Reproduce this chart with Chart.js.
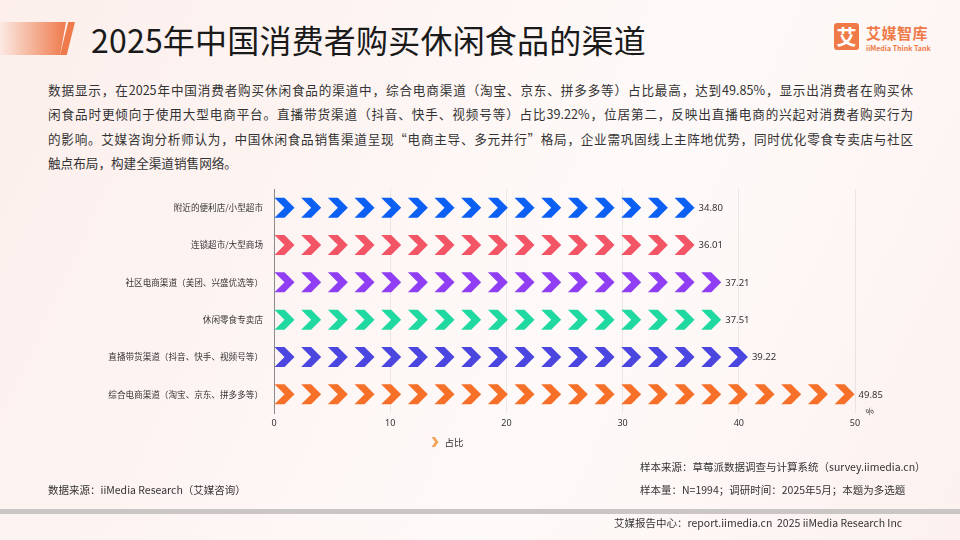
<!DOCTYPE html>
<html><head><meta charset="utf-8">
<script src="https://cdn.jsdelivr.net/npm/chart.js@4.4.1/dist/chart.umd.min.js"></script>
<style>
html,body{margin:0;padding:0;}
body{width:960px;height:540px;position:relative;overflow:hidden;
 background:linear-gradient(115deg,#fcefec 0%,#fdf5f3 35%,#fefaf9 60%,#fdf6f4 80%,#fcf1ef 100%);
 font-family:"Noto Sans CJK SC","Noto Sans",sans-serif;color:#333;}
.abs{position:absolute;white-space:nowrap;}
#blk{left:0;top:22px;width:66px;height:33px;background:linear-gradient(90deg,rgba(250,220,205,0.3),#ee7a4c);clip-path:polygon(0 0,100% 0,91% 100%,0 100%);}
#slash{left:60px;top:22px;width:15px;height:33px;background:#ee7a4c;clip-path:polygon(55% 0,100% 0,45% 100%,0 100%);}
#title{left:91px;top:16px;font-size:32px;color:#1a1a1a;font-weight:400;letter-spacing:0.2px;}
#logo{left:834px;top:23px;width:25px;height:27px;background:#ef7a48;border-radius:3px;color:#fff;font-size:20px;font-weight:700;text-align:center;line-height:27px;}
#lt1{left:866px;top:22px;font-size:15px;font-weight:700;color:#ee7a48;letter-spacing:0.5px;}
#lt2{left:866px;top:43px;font-size:7px;font-weight:700;color:#ee7a48;}
.p{left:48px;width:865px;font-size:12.6px;color:#333;text-align:justify;text-align-last:justify;line-height:16px;}
#chart{position:absolute;left:0;top:0;}
.f{font-size:10.5px;color:#333;}
#bar{left:0;top:509px;width:960px;height:5px;background:#c9c6c5;}
</style></head>
<body>
<div id="blk" class="abs"></div>
<div id="slash" class="abs"></div>
<div id="title" class="abs">2025年中国消费者购买休闲食品的渠道</div>
<div id="logo" class="abs">艾</div>
<div id="lt1" class="abs">艾媒智库</div>
<div id="lt2" class="abs">iiMedia Think Tank</div>
<div class="abs p" style="top:82px">数据显示，在2025年中国消费者购买休闲食品的渠道中，综合电商渠道（淘宝、京东、拼多多等）占比最高，达到49.85%，显示出消费者在购买休</div>
<div class="abs p" style="top:106px">闲食品时更倾向于使用大型电商平台。直播带货渠道（抖音、快手、视频号等）占比39.22%，位居第二，反映出直播电商的兴起对消费者购买行为</div>
<div class="abs p" style="top:131px">的影响。艾媒咨询分析师认为，中国休闲食品销售渠道呈现“电商主导、多元并行”格局，企业需巩固线上主阵地优势，同时优化零食专卖店与社区</div>
<div class="abs p" style="top:155px;text-align-last:left;width:auto">触点布局，构建全渠道销售网络。</div>
<canvas id="chart" width="960" height="540"></canvas>
<div class="abs f" style="left:48px;top:482px">数据来源：iiMedia Research（艾媒咨询）</div>
<div class="abs f" style="left:640px;top:459px">样本来源：草莓派数据调查与计算系统（survey.iimedia.cn）</div>
<div class="abs f" style="left:640px;top:482px">样本量：N=1994；调研时间：2025年5月；本题为多选题</div>
<div id="bar" class="abs"></div>
<div class="abs f" style="left:614px;top:515px">艾媒报告中心：report.iimedia.cn&nbsp;&nbsp;2025 iiMedia Research Inc</div>
<script>
const categories = ["附近的便利店/小型超市","连锁超市/大型商场","社区电商渠道（美团、兴盛优选等）","休闲零食专卖店","直播带货渠道（抖音、快手、视频号等）","综合电商渠道（淘宝、京东、拼多多等）"];
const values = [34.80, 36.01, 37.21, 37.51, 39.22, 49.85];
const barColors = ["#0b5ff2","#f25565","#8f3ef3","#1fd9a0","#4b46e0","#f7702a"];
const seriesName = "占比";
const xTicks = [0,10,20,30,40,50];
const unitLabel = "%";

function chevron(ctx,x,y,w,h,color){
  ctx.fillStyle=color;
  ctx.beginPath();
  ctx.moveTo(x,y-h/2);
  ctx.lineTo(x+w*0.5,y-h/2);
  ctx.lineTo(x+w,y);
  ctx.lineTo(x+w*0.5,y+h/2);
  ctx.lineTo(x,y+h/2);
  ctx.lineTo(x+w*0.5,y);
  ctx.closePath();
  ctx.fill();
}
const pictorial = {
  id:'pictorial',
  afterDatasetsDraw(chart){
    const ctx=chart.ctx, meta=chart.getDatasetMeta(0);
    const ds=chart.data.datasets[0];
    const symW=20, symH=20, gap=6.67, step=symW+gap;
    meta.data.forEach((el,i)=>{
      const len=el.x-el.base;
      const n=Math.ceil(len/step);
      let tip=el.base;
      for(let k=0;k<n;k++){
        const sx=el.base+k*step;
        chevron(ctx,sx,el.y,symW,symH,ds.symbolColors[i]);
        tip=sx+symW;
      }
      ctx.fillStyle='#333';
      ctx.font='9.5px "Noto Sans","Noto Sans CJK SC",sans-serif';
      ctx.textAlign='left';ctx.textBaseline='middle';
      ctx.fillText(ds.data[i].toFixed(2),tip+4,el.y+0.5);
    });
    const xs=chart.scales.x, ca=chart.chartArea;
    ctx.save();
    ctx.translate(xs.getPixelForValue(xTicks[xTicks.length-1])+15,ca.bottom-1);
    ctx.rotate(-0.5);
    ctx.font='9px "Noto Sans",sans-serif';ctx.fillStyle='#444';
    ctx.textAlign='center';ctx.textBaseline='middle';
    ctx.fillText(unitLabel,0,0);
    ctx.restore();
    const lx=(ca.left+ca.right)/2-133, ly=ca.bottom+29;
    chevron(ctx,lx,ly,7,10,'#f2a65c');
    ctx.font='9.5px "Noto Sans CJK SC",sans-serif';ctx.fillStyle='#333';
    ctx.textAlign='left';ctx.textBaseline='middle';
    ctx.fillText(ds.label,lx+13,ly);
  }
};
new Chart(document.getElementById('chart'),{
  type:'bar',
  data:{labels:categories,datasets:[{label:seriesName,data:values,backgroundColor:'rgba(0,0,0,0)',borderWidth:0,symbolColors:barColors,barPercentage:0.6,categoryPercentage:1}]},
  options:{
    indexAxis:'y',responsive:false,animation:false,devicePixelRatio:1,
    layout:{padding:{left:0,top:189,right:105,bottom:0}},
    plugins:{legend:{display:false},tooltip:{enabled:false}},
    scales:{
      x:{min:0,max:50,position:'bottom',
        afterBuildTicks(s){s.ticks=xTicks.map(v=>({value:v}));},
        afterFit(s){s.height=127;},
        grid:{color:'rgba(0,0,0,0.07)',drawTicks:false},
        border:{display:false},
        ticks:{padding:5,color:'#333',font:{size:9,family:'"Noto Sans",sans-serif'}}},
      y:{
        afterFit(s){s.width=274;},
        grid:{display:false},
        border:{display:true,color:'#8a8a8a',width:1},
        ticks:{padding:3,color:'#333',font:{size:8.6,family:'"Noto Sans CJK SC",sans-serif'}}}
    }
  },
  plugins:[pictorial]
});
</script>
</body></html>
